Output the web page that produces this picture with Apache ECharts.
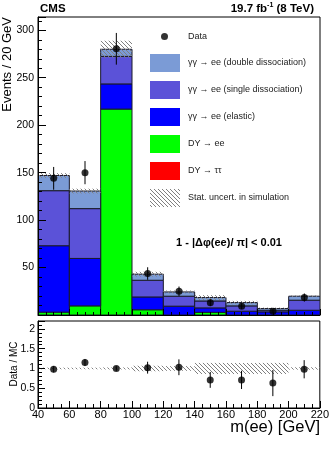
<!DOCTYPE html>
<html><head><meta charset="utf-8">
<script src="https://cdn.jsdelivr.net/npm/echarts@6/dist/echarts.min.js"></script>
<style>html,body{margin:0;padding:0;background:#fff}#c{width:332px;height:450px}</style>
</head><body><div id="c"></div>
<script>
// ---- data ----
const binLo = [40, 60, 80, 100, 120, 140, 160, 180, 200];
const binHi = [60, 80, 100, 120, 140, 160, 180, 200, 220];
const binCenters = [50, 70, 90, 110, 130, 150, 170, 190, 210];
const dataVals = [144, 150, 280.5, 43.7, 25, 13, 9.3, 4, 18.4];
const dataErr = [12, 12.2, 16.7, 6.6, 5, 3.6, 3, 2, 4.3];
const dyTauTau = [0, 0, 0, 0, 0, 0, 0, 0, 0];
const dyEE = [3, 9.6, 217, 5.5, 0, 2.8, 0, 0, 0];
const elastic = [70, 50, 26.5, 13.5, 9.3, 4.7, 4, 3.3, 5];
const singleDiss = [58, 52.5, 29, 17.6, 10.5, 7.3, 5.6, 1.7, 10.6];
const doubleDiss = [16, 18.5, 7.5, 6.4, 4.5, 3.6, 3.5, 1.8, 4.2];
const mcStatErr = [2.5, 2.5, 9, 2.5, 1.5, 2.5, 1.8, 1, 0.8];
const ratioVals = [0.98, 1.15, 1.0, 1.02, 1.03, 0.71, 0.71, 0.63, 0.98];
const ratioErr = [0.08, 0.09, 0.06, 0.15, 0.2, 0.2, 0.23, 0.33, 0.23];
const ratioBandErr = [0.02, 0.02, 0.025, 0.07, 0.06, 0.14, 0.14, 0.14, 0.03];
const xTicks = [40, 60, 80, 100, 120, 140, 160, 180, 200, 220];

const FONT = "'Liberation Sans', Arial, sans-serif";

function hatchCanvas() {
  const c = document.createElement('canvas');
  c.width = 4; c.height = 4;
  const g = c.getContext('2d');
  g.strokeStyle = '#808080'; g.lineWidth = 1;
  g.beginPath();
  g.moveTo(0, 0); g.lineTo(4, 4);
  g.moveTo(-2, 2); g.lineTo(2, 6);
  g.moveTo(2, -2); g.lineTo(6, 2);
  g.stroke();
  return c;
}
const hatch = { image: hatchCanvas(), repeat: 'repeat' };

function rectItem(stroke) {
  return function (params, api) {
    const x0 = api.value(0), x1 = api.value(1), y0 = api.value(2), y1 = api.value(3);
    if (!(y1 > y0)) return null;
    const p0 = api.coord([x0, y0]), p1 = api.coord([x1, y1]);
    return {
      type: 'rect',
      shape: { x: p0[0], y: p1[1], width: p1[0] - p0[0], height: p0[1] - p1[1] },
      style: stroke ? { fill: api.visual('color'), stroke: '#1a1a2a', lineWidth: 1 } : { fill: api.visual('color') }
    };
  };
}
function errItem(params, api) {
  const x = api.value(0), lo = api.value(1), hi = api.value(2);
  const a = api.coord([x, lo]), b = api.coord([x, hi]);
  return { type: 'line', shape: { x1: a[0], y1: a[1], x2: b[0], y2: b[1] }, style: { stroke: '#000', lineWidth: 1 } };
}

const stackDefs = [
  { name: 'DY \u2192 \u03c4\u03c4', vals: dyTauTau, color: '#ff0000' },
  { name: 'DY \u2192 ee', vals: dyEE, color: '#00ff00' },
  { name: '\u03b3\u03b3 \u2192 ee (elastic)', vals: elastic, color: '#0000ff' },
  { name: '\u03b3\u03b3 \u2192 ee (single dissociation)', vals: singleDiss, color: '#5b52d8' },
  { name: '\u03b3\u03b3 \u2192 ee (double dissociation)', vals: doubleDiss, color: '#7b9bd6' }
];
const base = binLo.map(() => 0);
const series = [];
stackDefs.forEach(d => {
  const rows = binLo.map((lo, i) => {
    const r = [lo, binHi[i], base[i], base[i] + d.vals[i]];
    base[i] += d.vals[i];
    return r;
  });
  series.push({
    type: 'custom', name: d.name, xAxisIndex: 0, yAxisIndex: 0, clip: true,
    itemStyle: { color: d.color },
    encode: { x: [0, 1], y: [2, 3] },
    renderItem: rectItem(true), data: rows, z: 2
  });
});
const totals = base.slice();
series.push({
  type: 'custom', name: 'Stat. uncert. in simulation', xAxisIndex: 0, yAxisIndex: 0, clip: true,
  itemStyle: { color: hatch }, encode: { x: [0, 1], y: [2, 3] },
  renderItem: rectItem(false),
  data: binLo.map((lo, i) => [lo, binHi[i], totals[i] - mcStatErr[i], totals[i] + mcStatErr[i]]), z: 3
});
series.push({
  type: 'custom', xAxisIndex: 0, yAxisIndex: 0, encode: { x: 0, y: [1, 2] }, renderItem: errItem, z: 4,
  data: binCenters.map((c, i) => [c, dataVals[i] - dataErr[i], dataVals[i] + dataErr[i]])
});
series.push({
  type: 'scatter', name: 'Data', xAxisIndex: 0, yAxisIndex: 0, symbol: 'circle', symbolSize: 7,
  itemStyle: { color: '#000' }, z: 5, data: binCenters.map((c, i) => [c, dataVals[i]])
});
// ratio panel
series.push({
  type: 'custom', xAxisIndex: 1, yAxisIndex: 1, clip: true, itemStyle: { color: hatch },
  encode: { x: [0, 1], y: [2, 3] }, renderItem: rectItem(false), z: 2,
  data: binLo.map((lo, i) => [lo, binHi[i], 1 - ratioBandErr[i], 1 + ratioBandErr[i]])
});
series.push({
  type: 'custom', xAxisIndex: 1, yAxisIndex: 1, encode: { x: 0, y: [1, 2] }, renderItem: errItem, z: 4,
  data: binCenters.map((c, i) => [c, ratioVals[i] - ratioErr[i], ratioVals[i] + ratioErr[i]])
});
series.push({
  type: 'scatter', xAxisIndex: 1, yAxisIndex: 1, symbol: 'circle', symbolSize: 7,
  itemStyle: { color: '#000' }, z: 5, data: binCenters.map((c, i) => [c, ratioVals[i]])
});

function mkAxis(extra, tickLen, minorLen, minorSplit) {
  return Object.assign({
    z: 10,
    axisLine: { show: true, onZero: false, lineStyle: { color: '#000', width: 1 } },
    axisTick: { show: true, inside: true, length: tickLen, lineStyle: { color: '#000' } },
    minorTick: { show: true, splitNumber: minorSplit, length: minorLen, lineStyle: { color: '#000' } },
    splitLine: { show: false }
  }, extra);
}

const option = {
  animation: false,
  backgroundColor: '#fff',
  textStyle: { fontFamily: FONT },
  grid: [
    { left: 38, top: 17, width: 282, height: 298, show: true, borderColor: '#000', borderWidth: 1 },
    { left: 38, top: 321, width: 282, height: 87, show: true, borderColor: '#000', borderWidth: 1 }
  ],
  xAxis: [
    mkAxis({ type: 'value', gridIndex: 0, min: xTicks[0], max: xTicks[xTicks.length - 1], interval: 20,
      axisLabel: { show: false } }, 6, 3, 4),
    mkAxis({ type: 'value', gridIndex: 1, min: xTicks[0], max: xTicks[xTicks.length - 1], interval: 20,
      axisLabel: { color: '#000', fontFamily: FONT, fontSize: 11, margin: 1 } }, 7, 4, 4)
  ],
  yAxis: [
    mkAxis({ type: 'value', gridIndex: 0, min: 0, max: 314, interval: 50,
      axisLabel: { color: '#000', fontFamily: FONT, fontSize: 10.5, margin: 4, showMinLabel: false, showMaxLabel: false } }, 8, 4, 5),
    mkAxis({ type: 'value', gridIndex: 1, min: 0, max: 2.2, interval: 0.5,
      axisLabel: { color: '#000', fontFamily: FONT, fontSize: 10.5, margin: 3, showMaxLabel: false } }, 7, 4, 5)
  ],
  legend: [
    { data: [{ name: 'Data', icon: 'circle' }], orient: 'vertical', left: 161, top: 32, padding: 0, itemWidth: 7, itemHeight: 7,
      selectedMode: false, textStyle: { fontSize: 9, color: '#222', fontFamily: FONT, padding: [0, 0, 0, 15] } },
    { data: stackDefs.slice().reverse().map(d => ({ name: d.name, icon: 'rect' })).concat([{ name: 'Stat. uncert. in simulation', icon: 'rect' }]),
      orient: 'vertical', left: 150, top: 54, padding: 0, itemWidth: 30, itemHeight: 18, itemGap: 9, selectedMode: false,
      itemStyle: { borderWidth: 0 },
      textStyle: { fontSize: 9, color: '#222', fontFamily: FONT, padding: [0, 0, 0, 3] } }
  ],
  graphic: [
    { type: 'text', x: 40, y: 15, style: { text: 'CMS', font: 'bold 11.5px ' + FONT, fill: '#000', textVerticalAlign: 'bottom' } },
    { type: 'text', x: 314, y: 15, style: { text: '19.7 fb{sup|-1} (8 TeV)', align: 'right', verticalAlign: 'bottom',
        font: 'bold 11.5px ' + FONT, fill: '#000',
        rich: { sup: { fontSize: 7, fontWeight: 'bold', fontFamily: FONT, verticalAlign: 'top', padding: [0, 0, 6, 0] } } } },
    { type: 'text', x: 229, y: 243, style: { text: '1 - |\u0394\u03c6(ee)/ \u03c0| < 0.01', align: 'center', verticalAlign: 'middle',
        font: 'bold 11px ' + FONT, fill: '#000' } },
    { type: 'text', x: 7, y: 17, rotation: Math.PI / 2, style: { text: 'Events / 20 GeV', align: 'right', verticalAlign: 'middle',
        font: '13px ' + FONT, fill: '#000' } },
    { type: 'text', x: 14, y: 364, rotation: Math.PI / 2, style: { text: 'Data / MC', align: 'center', verticalAlign: 'middle',
        font: '10px ' + FONT, fill: '#000' } },
    { type: 'text', x: 320, y: 436, style: { text: 'm(ee) [GeV]', align: 'right', verticalAlign: 'bottom',
        font: '16.5px ' + FONT, fill: '#000' } }
  ],
  series: series
};
const chart = echarts.init(document.getElementById('c'), null, { renderer: 'canvas' });
chart.setOption(option);
</script></body></html>
